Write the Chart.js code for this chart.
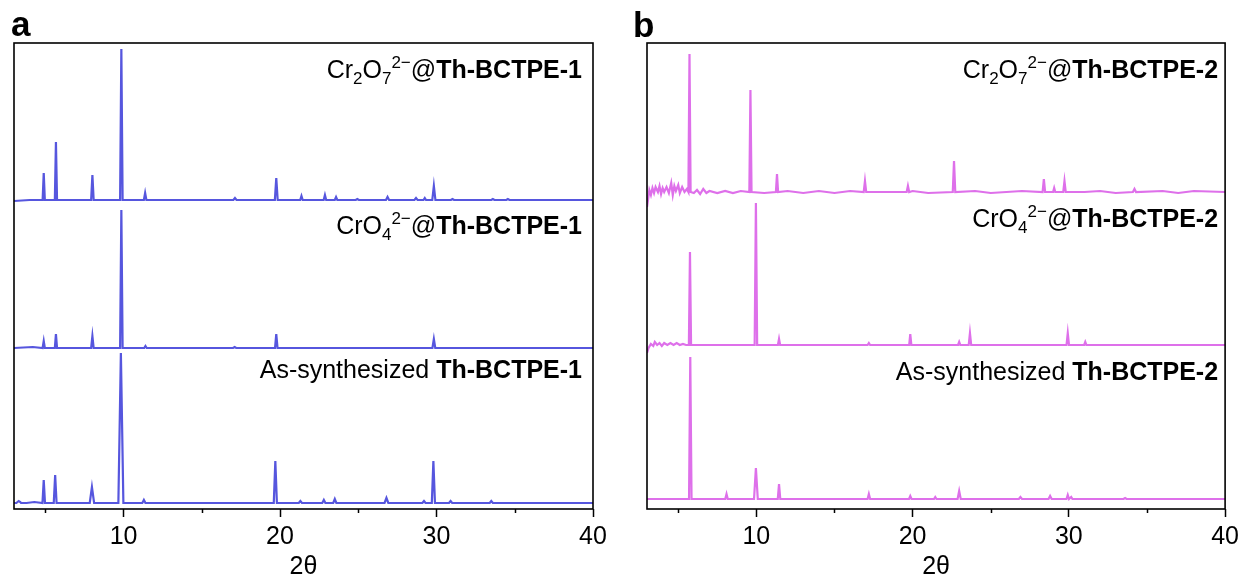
<!DOCTYPE html>
<html>
<head>
<meta charset="utf-8">
<script src="https://cdn.jsdelivr.net/npm/chart.js@4.4.0/dist/chart.umd.min.js"></script>
<style>
  html, body { margin: 0; padding: 0; background: #fff; }
  .panel { position: absolute; top: 0; width: 622px; height: 577px; }
  #wrapA { left: 0; }
  #wrapB { left: 622px; }
</style>
</head>
<body>
<div class="panel" id="wrapA"><canvas id="chartA" width="622" height="577"></canvas></div>
<div class="panel" id="wrapB"><canvas id="chartB" width="622" height="577"></canvas></div>
<script>
// x axis (2θ, degrees)
const xMin = 3;
const xMax = 40;
const majorTicks = [10, 20, 30, 40];
const minorTicks = [5, 15, 25, 35];

// peaks: [2θ, height, half width]  (height in plot px)
const peaksA1 = [ // As-synthesized Th-BCTPE-1
  [3.3, 2, 0.15], [4.9, 23, 0.08], [5.63, 28, 0.09], [7.98, 16, 0.14],
  [9.83, 150, 0.16], [11.3, 3, 0.1], [19.7, 42, 0.1], [21.3, 2, 0.1], [22.8, 3, 0.1],
  [23.5, 4, 0.1], [26.8, 5, 0.12], [29.2, 2, 0.1], [29.8, 42, 0.1], [30.9, 2, 0.1], [33.5, 2, 0.1]
];
const peaksA2 = [ // CrO4@Th-BCTPE-1
  [4.9, 7, 0.07], [5.68, 14, 0.07], [8.01, 12, 0.08], [9.86, 138, 0.08], [11.4, 2, 0.08],
  [17.1, 1, 0.1], [19.76, 14, 0.08], [29.83, 9, 0.09]
];
const peaksA3 = [ // Cr2O7@Th-BCTPE-1
  [4.9, 27, 0.07], [5.68, 58, 0.07], [8.01, 25, 0.08], [9.86, 151, 0.08], [11.38, 7, 0.08],
  [17.12, 2, 0.1], [19.76, 22, 0.09], [21.37, 4, 0.08], [22.87, 5, 0.08], [23.58, 3, 0.08],
  [24.94, 1, 0.1], [26.87, 3, 0.1], [28.69, 2, 0.1], [29.25, 2, 0.08], [29.83, 14, 0.1],
  [31.02, 1, 0.1], [33.6, 1, 0.1], [34.56, 1, 0.1]
];
const peaksB1 = [ // As-synthesized Th-BCTPE-2
  [5.77, 142, 0.08], [8.09, 5, 0.08], [9.97, 31, 0.12], [11.45, 15, 0.08], [17.2, 5, 0.08],
  [19.85, 3, 0.08], [21.45, 2, 0.08], [22.98, 8, 0.1], [26.9, 2, 0.1], [28.8, 3, 0.1],
  [29.93, 4, 0.08], [30.15, 2, 0.08], [33.6, 1, 0.1]
];
const peaksB2 = [ // CrO4@Th-BCTPE-2
  [5.75, 93, 0.07], [9.97, 142, 0.08], [11.45, 6, 0.07], [17.2, 2, 0.08], [19.85, 11, 0.07],
  [22.98, 3, 0.07], [23.67, 12, 0.08], [29.93, 12, 0.08], [31.05, 3, 0.07]
];
const peaksB3 = [ // Cr2O7@Th-BCTPE-2
  [5.72, 138, 0.07], [9.62, 102, 0.07], [11.32, 18, 0.07], [16.95, 11, 0.08], [19.7, 6, 0.08],
  [22.65, 31, 0.08], [28.4, 13, 0.08], [29.06, 4, 0.07], [29.72, 11, 0.08], [34.2, 3, 0.1]
];

// baseline wiggles: [2θ, value]
const baseA1 = [[3, 0], [3.4, 1], [3.8, 0], [4.3, 1], [40, 0]];
const baseA2 = [[3, 0], [4.2, 1], [40, 0]];
const baseA3 = [[3, -1], [4, 0], [40, 0]];
const baseB1 = [[3, 0], [40, 0]];
const baseB2 = [
  [3.0, -8], [3.1, -3], [3.25, 1], [3.4, -1], [3.5, 3], [3.65, 0], [3.8, 2], [3.95, -1],
  [4.1, 2], [4.3, 0], [4.5, 2], [4.7, 0], [4.9, 2], [5.1, 0], [5.3, 1], [5.5, 0], [40, 0]
];
const baseB3 = [
  [3.0, -15], [3.08, -6], [3.15, 2], [3.25, -3], [3.35, 4], [3.45, -1], [3.55, 5], [3.7, 0],
  [3.8, 6], [3.9, -2], [4.0, 4], [4.1, 0], [4.25, 5], [4.4, -1], [4.55, 9], [4.65, -3],
  [4.75, 6], [4.85, 1], [5.0, 7], [5.1, -1], [5.25, 5], [5.4, 0], [5.55, 3], [6.0, -1],
  [6.2, 2], [6.4, -2], [6.6, 3], [6.8, -1], [7.0, 1], [7.5, -1], [8, 1], [8.5, -1], [9, 1],
  [10.5, -1], [12, 1], [13, -1], [14, 1], [15, -1], [16, 1], [18, 0], [20, 1], [21, -1],
  [24, 1], [25, -1], [27, 1], [31, 0], [32, 1], [33, -1], [36, 1], [37, -1], [38, 1], [40, 0]
];

// stacking offsets (plot px above the x axis)
const offsetsA = [6, 161, 309];
const offsetsB = [10, 164, 317];

// trace labels
const labelsA = [
  [['As-synthesized ', ''], ['Th-BCTPE-1', 'b']],
  [['CrO', ''], ['4', 'sub'], ['2\u2212', 'sup'], ['@', ''], ['Th-BCTPE-1', 'b']],
  [['Cr', ''], ['2', 'sub'], ['O', ''], ['7', 'sub'], ['2\u2212', 'sup'], ['@', ''], ['Th-BCTPE-1', 'b']]
];
const labelsB = [
  [['As-synthesized ', ''], ['Th-BCTPE-2', 'b']],
  [['CrO', ''], ['4', 'sub'], ['2\u2212', 'sup'], ['@', ''], ['Th-BCTPE-2', 'b']],
  [['Cr', ''], ['2', 'sub'], ['O', ''], ['7', 'sub'], ['2\u2212', 'sup'], ['@', ''], ['Th-BCTPE-2', 'b']]
];

const FONT = '"Liberation Sans", Arial, sans-serif';

function buildTrace(peaks, base, offset) {
  const pts = base.map(p => ({ x: p[0], y: p[1] + offset }));
  peaks.forEach(([c, h, w]) => {
    pts.push({ x: c - w, y: offset }, { x: c, y: h + offset }, { x: c + w, y: offset });
  });
  pts.sort((a, b) => a.x - b.x);
  return pts;
}

function drawRich(ctx, segs, right, base, size) {
  const parts = segs.map(([t, kind]) => {
    const small = kind === 'sub' || kind === 'sup';
    const font = (kind === 'b' ? 'bold ' : '') + (small ? Math.round(size * 0.66) : size) + 'px ' + FONT;
    ctx.font = font;
    const dy = kind === 'sub' ? size * 0.24 : kind === 'sup' ? -size * 0.4 : 0;
    return { t, font, dy, w: ctx.measureText(t).width };
  });
  let x = right - parts.reduce((s, p) => s + p.w, 0);
  ctx.textAlign = 'left';
  ctx.textBaseline = 'alphabetic';
  parts.forEach(p => {
    ctx.font = p.font;
    ctx.fillText(p.t, x, base + p.dy);
    x += p.w;
  });
}

function makeChart(id, traces, color, pad, letter, labels, labelPos) {
  const framePlugin = {
    id: 'frame',
    afterDraw(chart) {
      const { ctx, chartArea: a } = chart;
      const xs = chart.scales.x;
      ctx.save();
      ctx.strokeStyle = '#000';
      ctx.lineWidth = 1.6;
      ctx.strokeRect(a.left, a.top, a.right - a.left, a.bottom - a.top);
      ctx.lineWidth = 1.5;
      minorTicks.forEach(v => {
        const px = Math.round(xs.getPixelForValue(v)) + 0.5;
        ctx.beginPath();
        ctx.moveTo(px, a.bottom);
        ctx.lineTo(px, a.bottom + 4);
        ctx.stroke();
      });
      ctx.fillStyle = '#000';
      ctx.font = 'bold 35px ' + FONT;
      ctx.textBaseline = 'alphabetic';
      ctx.textAlign = 'left';
      ctx.fillText(letter.t, letter.x, letter.y);
      labels.forEach((segs, i) => drawRich(ctx, segs, a.right - labelPos.inset, labelPos.y[i], 25));
      ctx.restore();
    }
  };

  return new Chart(document.getElementById(id), {
    type: 'line',
    data: {
      datasets: traces.map(t => ({
        data: t,
        borderColor: color,
        borderWidth: 2.2,
        pointRadius: 0,
        tension: 0,
        fill: false
      }))
    },
    options: {
      responsive: false,
      animation: false,
      events: [],
      layout: { padding: pad },
      plugins: { legend: { display: false }, tooltip: { enabled: false } },
      scales: {
        x: {
          type: 'linear',
          min: xMin,
          max: xMax,
          afterBuildTicks: s => { s.ticks = majorTicks.map(v => ({ value: v })); },
          afterFit: s => { s.height = 68; },
          border: { display: false },
          grid: { drawOnChartArea: false, drawTicks: true, tickLength: 8, tickWidth: 1.5, tickColor: '#000' },
          ticks: { color: '#000', padding: 5, maxRotation: 0, font: { family: FONT, size: 25 } },
          title: {
            display: true, text: '2θ', color: '#000',
            padding: { top: 0, bottom: 0 },
            font: { family: FONT, size: 25, lineHeight: 0.8 }
          }
        },
        y: { display: false, min: 0, max: 466 }
      }
    },
    plugins: [framePlugin]
  });
}

makeChart('chartA',
  [buildTrace(peaksA1, baseA1, offsetsA[0]), buildTrace(peaksA2, baseA2, offsetsA[1]), buildTrace(peaksA3, baseA3, offsetsA[2])],
  'rgb(86, 86, 222)',
  { left: 14, right: 29, top: 43, bottom: 0 },
  { t: 'a', x: 11, y: 36 },
  labelsA,
  { inset: 11, y: [378, 234, 78] }
);

makeChart('chartB',
  [buildTrace(peaksB1, baseB1, offsetsB[0]), buildTrace(peaksB2, baseB2, offsetsB[1]), buildTrace(peaksB3, baseB3, offsetsB[2])],
  'rgb(222, 112, 234)',
  { left: 25, right: 17, top: 43, bottom: 0 },
  { t: 'b', x: 11, y: 37 },
  labelsB,
  { inset: 7, y: [380, 227, 78] }
);
</script>
</body>
</html>
